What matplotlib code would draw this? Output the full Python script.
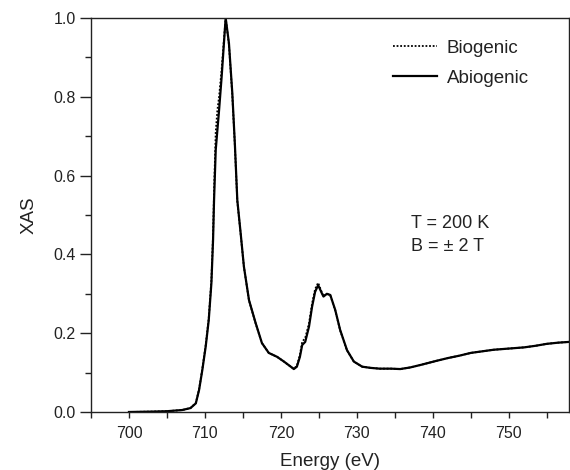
import numpy as np
import matplotlib
matplotlib.use("Agg")
import matplotlib.pyplot as plt

plt.rcParams['font.family'] = ['Liberation Sans', 'DejaVu Sans']

# Fe L2,3-edge XAS spectra (normalised), sampled on a common energy grid
energy = [700.0, 703.0, 705.0, 707.0, 708.1, 708.8, 709.23, 709.66, 710.1, 710.5,
          710.85, 711.07, 711.2, 711.42, 711.64, 711.86, 712.2, 712.5, 712.73,
          713.16, 713.6, 713.94, 714.26, 714.7, 715.13, 715.8, 716.67, 717.5,
          718.4, 719.5, 720.4, 721.3, 721.7, 722.1, 722.5, 722.8, 723.2, 723.7,
          724.1, 724.5, 724.9, 725.3, 725.6, 726.05, 726.5, 727.15, 727.8, 728.7,
          729.6, 730.7, 731.8, 733.0, 734.5, 735.7, 737.0, 738.5, 740.5, 742.0,
          743.5, 745.0, 746.5, 748.0, 750.0, 752.0, 753.5, 755.0, 756.5, 758.0]

xas_abio = [0.000, 0.001, 0.002, 0.005, 0.010, 0.022, 0.056, 0.107, 0.166, 0.233,
            0.327, 0.437, 0.538, 0.665, 0.716, 0.766, 0.851, 0.936, 1.000,
            0.936, 0.810, 0.680, 0.538, 0.454, 0.369, 0.284, 0.226, 0.175,
            0.150, 0.140, 0.128, 0.115, 0.109, 0.115, 0.140, 0.170, 0.178, 0.217,
            0.267, 0.305, 0.322, 0.305, 0.293, 0.300, 0.297, 0.259, 0.208, 0.157,
            0.128, 0.115, 0.112, 0.110, 0.110, 0.109, 0.113, 0.120, 0.130, 0.137,
            0.143, 0.150, 0.154, 0.158, 0.161, 0.164, 0.168, 0.173, 0.176, 0.178]

xas_bio = [0.000, 0.001, 0.002, 0.005, 0.010, 0.023, 0.058, 0.110, 0.170, 0.238,
           0.335, 0.450, 0.560, 0.710, 0.766, 0.800, 0.870, 0.945, 1.000,
           0.932, 0.805, 0.676, 0.535, 0.452, 0.368, 0.283, 0.225, 0.175,
           0.150, 0.140, 0.128, 0.115, 0.110, 0.117, 0.145, 0.178, 0.188, 0.225,
           0.275, 0.312, 0.328, 0.308, 0.294, 0.300, 0.296, 0.258, 0.207, 0.156,
           0.128, 0.115, 0.112, 0.110, 0.110, 0.109, 0.113, 0.120, 0.130, 0.137,
           0.143, 0.150, 0.154, 0.158, 0.161, 0.164, 0.168, 0.173, 0.176, 0.178]

x_major = [700, 710, 720, 730, 740, 750]
y_major = [0.0, 0.2, 0.4, 0.6, 0.8, 1.0]

ink = '#222222'

fig = plt.figure(figsize=(5.7, 4.7), dpi=100)
ax = fig.add_axes([0.1596, 0.1234, 0.8384, 0.8383])

ax.plot(energy, xas_bio, color='black', lw=1.3, ls=(0, (1, 1)), label='Biogenic')
ax.plot(energy, xas_abio, color='black', lw=1.6, label='Abiogenic')

ax.set_xlim(695.1, 757.9)
ax.set_ylim(0.0, 1.0)
ax.set_xticks(x_major)
ax.set_xticks(np.arange(695, 758, 5), minor=True)
ax.set_yticks(y_major)
ax.set_yticks(np.arange(0.1, 1.0, 0.2), minor=True)
ax.set_yticklabels([f"{v:.1f}" for v in y_major])

ax.tick_params(axis='both', which='both', direction='out', labelsize=11.5,
               width=1.0, color=ink, labelcolor=ink)
ax.tick_params(axis='y', which='major', length=8, pad=3)
ax.tick_params(axis='y', which='minor', length=4)
ax.tick_params(axis='x', which='both', length=4)
ax.tick_params(axis='x', pad=6)
for s in ax.spines.values():
    s.set_linewidth(1.0)
    s.set_color(ink)

ax.set_xlabel('Energy (eV)', fontsize=13.5, labelpad=9, color=ink)
ax.set_ylabel('XAS', fontsize=13.5, labelpad=11, color=ink)

leg = ax.legend(loc='upper right', bbox_to_anchor=(0.944, 0.978), frameon=False,
                fontsize=13.5, handlelength=2.35, handletextpad=0.5,
                labelspacing=0.67, borderaxespad=0.3)
for t in leg.get_texts():
    t.set_color(ink)

ax.text(0.669, 0.4665, 'T = 200 K', transform=ax.transAxes,
        fontsize=13, va='baseline', ha='left', color=ink)
ax.text(0.669, 0.4074, 'B = \u00b1 2 T', transform=ax.transAxes,
        fontsize=13, va='baseline', ha='left', color=ink)

fig.savefig('out.png', dpi=100)
